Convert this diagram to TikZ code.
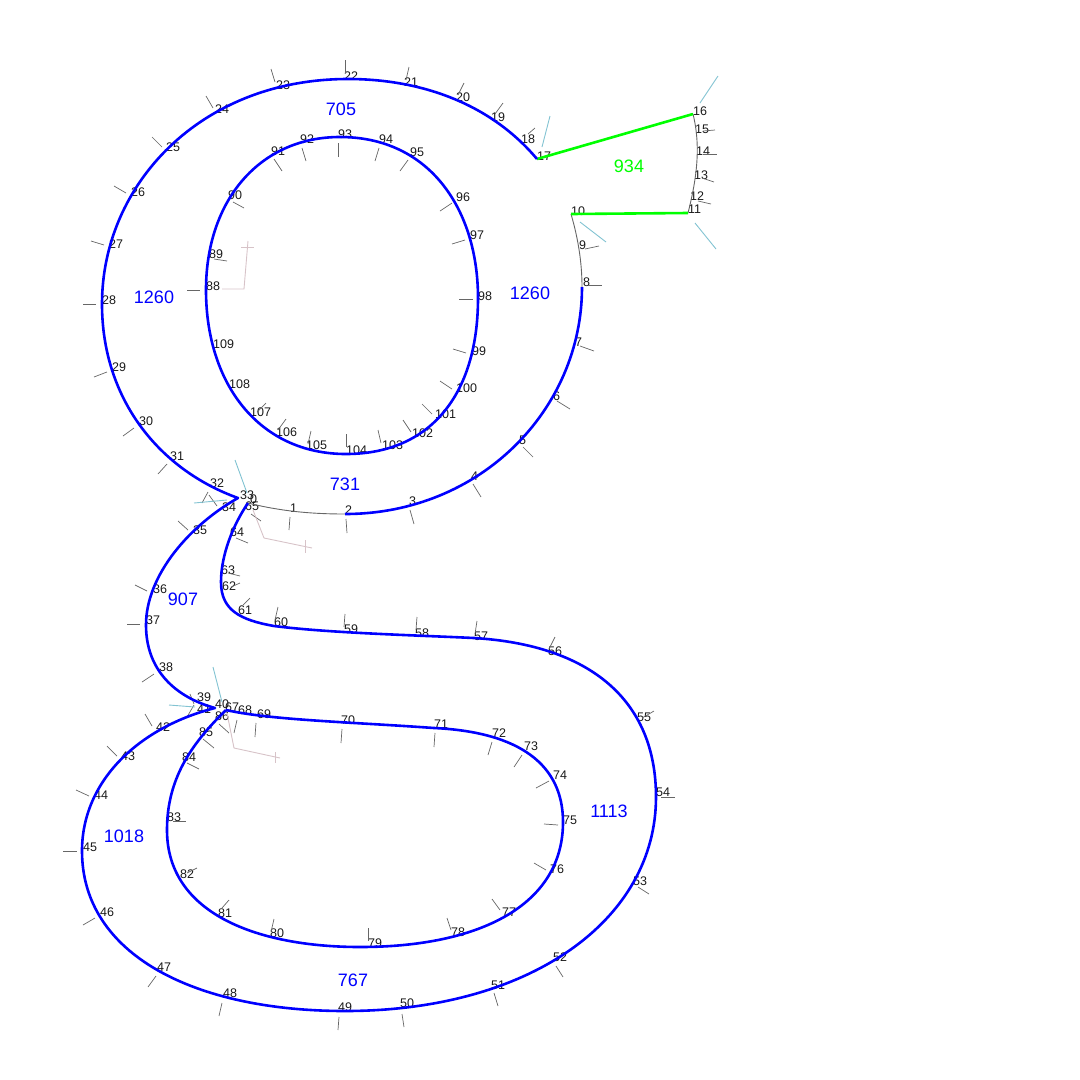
\documentclass[tikz,border=0pt]{standalone}
\usepackage{fontspec}
\setmainfont{Liberation Sans}
\definecolor{handlecyan}{RGB}{130,195,210}
\definecolor{handlepink}{RGB}{215,195,200}
\tikzset{every picture/.style={/utils/exec={\fontsize{12.5}{14}\selectfont}}}

\begin{document}
\begin{tikzpicture}[x=1pt, y=-1pt]
  \tikzstyle{ptlabel} = [anchor=base west, inner sep=0pt, text=black!90]
  \tikzstyle{arealabel} = [inner sep=0pt, font=\fontsize{18}{20}\selectfont]
  \tikzstyle{blueline} = [draw=blue, line width=2.6pt, line join=round]
  \tikzstyle{greenline} = [draw=green, line width=2.6pt]
  \tikzstyle{greyline} = [draw=black!60, line width=0.9pt]
  \tikzstyle{tickline} = [draw=black!60, line width=0.7pt]
  \tikzstyle{cyanline} = [draw=handlecyan, line width=0.9pt]
  \tikzstyle{pinkline} = [draw=handlepink, line width=0.9pt]

  \useasboundingbox (0,0) rectangle (1080,1080);

  % points and their numbers
  \foreach \n/\x/\y in {0/250/503, 1/290/512, 2/345/514, 3/409/505, 4/471/480, 5/519/444, 6/553/400, 7/575/346,
      8/583/286, 9/579/249, 10/571/215, 11/688/213, 12/690/200, 13/694/179, 14/696/155, 15/695/133, 16/693/115,
      17/537/160, 18/521/143, 19/491/121, 20/456/101, 21/404/86, 22/344/80, 23/276/89, 24/215/113, 25/166/151,
      26/131/196, 27/109/248, 28/102/304, 29/112/371, 30/139/425, 31/170/460, 32/210/487, 33/240/499, 34/222/511,
      35/193/534, 36/153/593, 37/146/624, 38/159/671, 39/197/701, 40/215/708, 41/197/713, 42/156/731, 43/121/760,
      44/94/799, 45/83/851, 46/100/916, 47/157/971, 48/223/997, 49/338/1011, 50/400/1007, 51/491/989, 52/553/961,
      53/633/885, 54/656/796, 55/637/721, 56/548/655, 57/474/640, 58/415/637, 59/344/633, 60/274/626, 61/238/614,
      62/222/590, 63/221/574, 64/230/536, 65/245/510, 67/225/711, 68/238/714, 69/257/718, 70/341/724, 71/434/728,
      72/492/737, 73/524/750, 74/553/779, 75/563/824, 76/550/873, 77/502/916, 78/451/936, 79/368/947, 80/270/937,
      81/218/917, 82/180/878, 83/167/821, 84/182/761, 85/199/736, 86/215/720, 88/206/290, 89/209/258, 90/228/199,
      91/271/155, 92/300/143, 93/338/138, 94/379/143, 95/410/156, 96/456/201, 97/470/239, 98/478/300, 99/472/355,
      100/456/392, 101/435/418, 102/412/437, 103/382/449, 104/346/454, 105/306/449, 106/276/436, 107/250/416,
      108/229/388, 109/213/348} {
    \coordinate (c\n) at (\x,\y);
    \node (p\n) [ptlabel] at (c\n) {\n};
  }

  % grey ticks
  \foreach \a/\b/\c/\d in {290/517/289/530, 346/519/347/533, 410/510/414/524, 473/484/481/497, 523/447/533/457,
      557/401/570/409, 580/346/594/351, 588/285/602/285, 585/249/599/246, 698/201/711/204, 702/178/714/182,
      703/154/717/154, 703/131/715/130, 535/128/528/134, 503/103/495/114, 464/83/458/95, 409/67/406/80,
      345/60/345/73, 271/69/275/82, 206/96/213/108, 152/137/162/147, 114/186/126/193, 91/241/104/245,
      83/304/96/304, 94/377/107/372, 123/436/134/428, 158/474/167/464, 202/503/208/492, 209/495/217/506,
      178/521/188/530, 135/585/147/591, 127/624/140/624, 142/682/154/674, 190/694/194/704, 194/705/187/717,
      145/714/152/726, 107/746/117/756, 76/790/89/796, 63/851/77/851, 83/925/95/918, 148/987/156/976,
      219/1016/222/1003, 338/1030/339/1017, 404/1027/402/1014, 498/1006/494/993, 563/977/556/966, 649/894/638/887,
      675/797/661/797, 654/711/642/718, 555/637/549/649, 477/621/475/634, 417/617/416/630, 345/614/344/627,
      278/607/275/620, 250/598/243/605, 240/583/231/587, 240/576/228/573, 248/543/236/538, 261/521/251/514,
      237/720/234/733, 256/723/255/737, 219/724/229/733, 203/739/214/748, 187/763/199/769, 173/821/186/821,
      197/868/187/873, 229/900/222/908, 274/919/271/932, 368/928/368/941, 447/918/451/930, 492/899/500/910,
      534/863/546/870, 544/824/558/825, 536/788/549/781, 514/767/522/755, 488/755/492/742, 434/747/435/733,
      341/743/342/729, 233/202/244/208, 214/259/227/261, 187/290/200/290, 282/171/274/159, 306/161/302/148,
      338/157/338/143, 375/161/379/148, 400/171/408/160, 440/211/452/203, 452/244/465/240, 459/299/473/299,
      453/349/466/353, 440/381/452/389, 422/404/432/414, 403/420/411/432, 378/430/381/443, 346/434/346/447,
      311/431/308/444, 286/419/278/430, 266/403/257/412} {
    \draw [tickline] (\a,\b) -- (\c,\d);
  }

  % cyan ticks at the corners
  \foreach \a/\b/\c/\d in {235/460/247/493, 194/503/227/500, 213/667/222/702, 169/705/195/707,
      550/116/542/147, 718/76/700/103, 580/222/606/242, 695/223/716/249} {
    \draw [cyanline] (\a,\b) -- (\c,\d);
  }

  % pink handles
  \draw [pinkline] (253,510) -- (264,538) -- (312,548);
  \draw [pinkline] (305,540) -- (305,553);
  \draw [pinkline] (227,713) -- (234,748) -- (280,758);
  \draw [pinkline] (275,752) -- (275,763);
  \draw [pinkline] (222,289) -- (244,289) -- (248,241);
  \draw [pinkline] (241,247) -- (254,247);

  % corners and extremes of the outline
  \coordinate (notch) at (248,503);
  \coordinate (bowlend) at (345,514);
  \coordinate (bowlright) at (582,287);
  \coordinate (earlow) at (571,214);
  \coordinate (earright) at (688,213);
  \coordinate (eartop) at (693,114);
  \coordinate (earleft) at (537,159);
  \coordinate (upper) at (238,498);
  \coordinate (lower) at (215,708);
  \coordinate (inner) at (226,710);

  % grey parts
  \draw [greyline] (notch) .. controls (280,511) and (310,514) .. (bowlend);
  \draw [greyline] (bowlright) .. controls (582,262) and (578,238) .. (earlow);
  \draw [greyline] (earright) .. controls (695,185) and (702,150) .. (eartop);
  % green parts
  \draw [greenline] (earlow) -- (earright);
  \draw [greenline] (eartop) -- (earleft);
  % blue parts
  \draw [blueline] (bowlend) .. controls (480,514) and (582,410) .. (bowlright);
  \draw [blueline] (earleft) .. controls (490,103) and (420,79) .. (348,79)
      .. controls (200,79) and (102,185) .. (102,304)
      .. controls (102,400) and (160,470) .. (upper)
      .. controls (190,525) and (146,575) .. (146,625)
      .. controls (146,670) and (175,697) .. (lower)
      .. controls (140,727) and (82,780) .. (82,851)
      .. controls (82,955) and (195,1011) .. (345,1011)
      .. controls (530,1011) and (656,920) .. (656,797)
      .. controls (656,700) and (590,645) .. (474,638)
      .. controls (410,635) and (330,633) .. (274,626)
      .. controls (240,620) and (221,610) .. (221,582)
      .. controls (221,555) and (233,525) .. (notch);
  \draw [blueline] (inner) .. controls (270,720) and (350,722) .. (434,728)
      .. controls (520,732) and (563,765) .. (563,822)
      .. controls (563,905) and (480,947) .. (360,947)
      .. controls (260,947) and (167,915) .. (167,830)
      .. controls (167,780) and (190,745) .. (inner);
  \draw [blueline] (340,137) .. controls (430,137) and (478,210) .. (478,298)
      .. controls (478,395) and (430,454) .. (346,454)
      .. controls (260,454) and (206,385) .. (206,290)
      .. controls (206,200) and (260,137) .. (340,137) -- cycle;

  % area numbers
  \foreach \name/\x/\y/\v in {top/341/109/705, left/154/297/1260, right/530/293/1260, bottom/345/484/731,
      neck/183/599/907, lower/124/836/1018, side/609/811/1113, foot/353/980/767} {
    \node (area\name) [arealabel, text=blue] at (\x,\y) {\v};
  }
  \node (areaear) [arealabel, text=green] at (629,166) {934};
\end{tikzpicture}
\end{document}
